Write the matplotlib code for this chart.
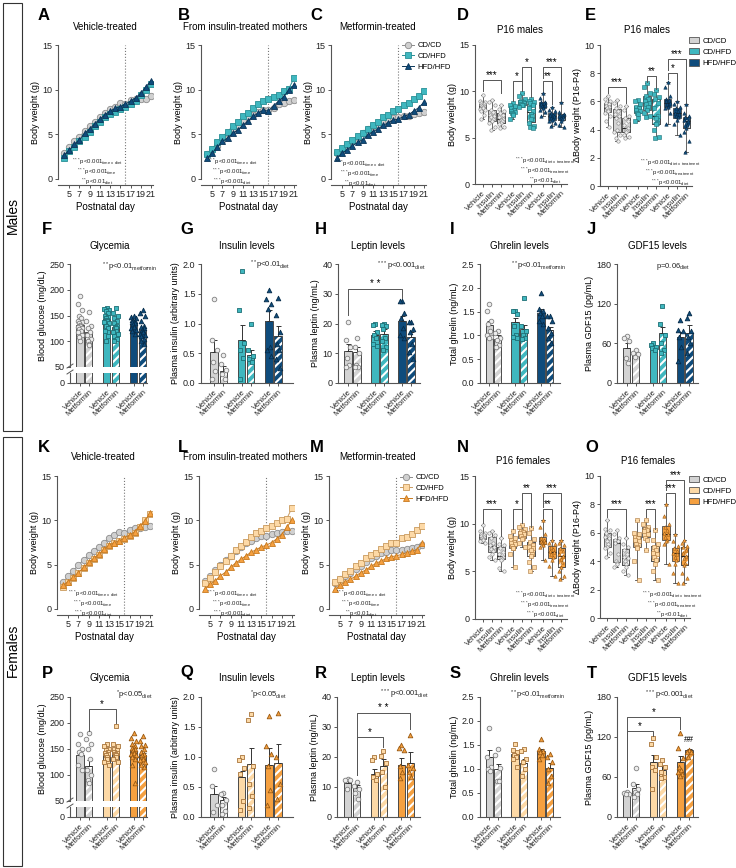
import numpy as np
import matplotlib
matplotlib.use('Agg')
import matplotlib.pyplot as plt
from matplotlib.patches import Rectangle, Patch, PathPatch
from matplotlib.lines import Line2D

# ---------------- data ----------------
days = list(range(4, 22))

# Males body-weight curves
A_CDCD   = [2.9, 3.6, 4.2, 4.7, 5.4, 5.9, 6.4, 6.9, 7.4, 7.8, 8.1, 8.5, 8.4, 8.8, 8.9, 8.9, 8.9, 9.3]
A_CDHFD  = [2.4, 3.1, 3.6, 4.2, 4.7, 5.3, 5.9, 6.4, 6.9, 7.3, 7.5, 7.8, 8.1, 8.4, 8.7, 9.4, 10.0, 10.6]
A_HFDHFD = [2.7, 3.2, 3.9, 4.4, 5.1, 5.6, 6.2, 6.7, 7.2, 7.6, 7.9, 8.1, 8.4, 8.7, 9.1, 9.6, 10.3, 11.0]
B_CDCD   = [2.8, 3.2, 3.7, 4.4, 5.0, 5.6, 6.0, 6.5, 6.9, 7.2, 7.5, 7.7, 7.7, 8.0, 8.4, 8.5, 8.7, 8.8]
B_CDHFD  = [2.8, 3.4, 4.1, 4.7, 5.3, 5.9, 6.4, 7.0, 7.4, 8.0, 8.4, 8.7, 9.0, 9.2, 9.4, 9.9, 10.1, 11.3]
B_HFDHFD = [2.3, 2.9, 3.6, 4.2, 4.6, 5.1, 5.5, 6.0, 6.5, 7.0, 7.4, 7.7, 7.6, 8.2, 8.7, 9.2, 10.0, 10.5]
C_CDCD   = [2.9, 3.4, 3.9, 4.3, 4.6, 5.2, 5.6, 5.9, 6.1, 6.4, 6.6, 6.8, 6.9, 7.0, 7.1, 7.3, 7.4, 7.5]
C_CDHFD  = [3.0, 3.5, 3.9, 4.4, 4.8, 5.2, 5.6, 6.0, 6.4, 6.9, 7.2, 7.6, 7.8, 8.3, 8.5, 8.9, 9.3, 9.8]
C_HFDHFD = [2.4, 2.9, 3.3, 3.7, 4.1, 4.4, 4.9, 5.3, 5.6, 6.0, 6.3, 6.6, 6.7, 7.0, 7.2, 7.6, 8.0, 8.6]
# Females body-weight curves
K_CDCD   = [3.0, 3.7, 4.3, 5.0, 5.5, 6.1, 6.5, 7.0, 7.4, 8.0, 8.4, 8.7, 8.6, 8.9, 9.1, 9.1, 9.3, 9.4]
K_CDHFD  = [2.5, 3.0, 3.5, 4.05, 4.6, 5.2, 5.6, 6.1, 6.6, 7.05, 7.5, 7.7, 7.9, 8.25, 8.6, 9.2, 10.05, 10.7]
K_HFDHFD = [2.7, 3.1, 3.6, 4.1, 4.7, 5.25, 5.7, 6.2, 6.75, 7.2, 7.5, 7.7, 8.0, 8.35, 8.7, 9.4, 9.9, 10.8]
L_CDCD   = [3.2, 3.7, 4.4, 5.0, 5.5, 6.0, 6.5, 7.0, 7.4, 7.7, 8.0, 8.2, 8.25, 8.5, 8.6, 8.7, 8.75, 8.8]
L_CDHFD  = [2.9, 3.55, 4.2, 4.8, 5.4, 6.0, 6.6, 7.1, 7.6, 8.1, 8.55, 8.85, 9.1, 9.4, 9.75, 10.05, 10.2, 11.4]
L_HFDHFD = [2.25, 2.8, 3.2, 3.75, 4.15, 4.7, 5.2, 5.6, 6.0, 6.4, 6.7, 7.0, 7.2, 7.5, 7.9, 8.4, 9.2, 10.05]
M_CDCD   = [2.9, 3.4, 3.7, 4.1, 4.55, 4.9, 5.3, 5.7, 6.0, 6.3, 6.45, 6.6, 6.7, 6.7, 6.8, 6.9, 6.95, 7.2]
M_CDHFD  = [3.05, 3.4, 3.9, 4.3, 4.8, 5.2, 5.7, 6.1, 6.3, 6.8, 7.1, 7.4, 7.5, 8.0, 8.1, 8.5, 8.9, 9.4]
M_HFDHFD = [2.2, 2.7, 3.05, 3.35, 3.7, 4.1, 4.4, 4.8, 5.15, 5.4, 5.7, 5.9, 6.0, 6.15, 6.35, 6.5, 6.7, 7.45]

# P16 individual values, per diet: [Vehicle, Insulin, Metformin]
D_CDCD = [[9.6, 9.0, 8.8, 8.7, 8.6, 8.5, 8.4, 8.4, 8.3, 8.2, 8.1, 8.0, 7.9, 7.5, 7.0],
          [9.1, 8.9, 8.5, 8.0, 7.8, 7.5, 7.3, 7.2, 7.0, 6.8, 6.6, 6.2, 5.8],
          [8.5, 8.1, 7.9, 7.7, 7.5, 7.2, 7.0, 6.9, 6.8, 6.6, 6.5, 6.2, 6.0]]
D_CDHFD = [[8.7, 8.5, 8.4, 8.2, 8.0, 7.9, 7.8, 7.7, 7.6, 7.4, 7.0],
           [9.8, 9.5, 9.2, 9.0, 8.9, 8.8, 8.7, 8.6, 8.5, 8.5, 8.3],
           [9.2, 9.0, 8.9, 8.7, 8.5, 8.2, 7.9, 7.6, 7.3, 7.0, 6.6, 6.3, 6.1, 6.0]]
D_HFDHFD = [[9.8, 9.3, 8.9, 8.8, 8.7, 8.6, 8.5, 8.4, 8.3, 8.2, 8.0, 7.8, 7.3],
            [8.3, 8.0, 7.9, 7.7, 7.5, 7.4, 7.3, 7.1, 7.0, 6.9, 6.8, 6.6, 6.3],
            [8.8, 7.8, 7.6, 7.5, 7.4, 7.3, 7.2, 7.1, 7.0, 6.8, 6.4, 6.1]]
E_CDCD = [[6.4, 6.2, 6.0, 5.9, 5.8, 5.7, 5.6, 5.5, 5.4, 5.3, 5.2, 5.0, 4.6, 4.2],
          [6.1, 5.9, 5.7, 5.5, 5.3, 5.1, 5.0, 4.8, 4.5, 4.0, 3.8, 3.6, 3.4, 3.2],
          [5.7, 5.4, 5.0, 4.8, 4.6, 4.3, 4.1, 4.0, 3.9, 3.8, 3.6, 3.5, 3.4]]
E_CDHFD = [[6.1, 6.0, 5.8, 5.6, 5.5, 5.4, 5.3, 5.2, 5.1, 4.8, 4.6],
           [7.3, 7.0, 6.6, 6.4, 6.2, 6.0, 5.9, 5.8, 5.6, 5.4, 5.2, 5.0, 4.9],
           [6.8, 6.5, 6.3, 6.2, 5.9, 5.5, 5.0, 4.8, 4.5, 4.4, 4.0, 3.5, 3.4]]
E_HFDHFD = [[7.4, 7.0, 6.4, 6.2, 6.1, 6.0, 5.9, 5.8, 5.7, 5.6, 5.5, 5.2, 4.4],
            [6.0, 5.8, 5.6, 5.5, 5.3, 5.2, 5.1, 5.0, 4.9, 4.7, 4.4, 3.6],
            [5.8, 5.2, 5.0, 4.9, 4.8, 4.7, 4.6, 4.5, 4.3, 4.1, 3.8, 3.2, 2.4]]
N_CDCD = [[9.9, 9.2, 9.0, 8.9, 8.8, 8.7, 8.6, 8.5, 8.4, 8.3, 8.2, 8.0],
          [9.2, 9.0, 8.8, 8.5, 8.0, 7.8, 7.6, 7.3, 7.1, 6.8, 6.5, 6.2],
          [8.5, 7.9, 7.8, 7.5, 7.0, 6.8, 6.5, 6.4, 6.3, 6.2, 5.3, 5.0]]
N_CDHFD = [[9.2, 8.7, 8.5, 8.3, 8.1, 8.0, 7.9, 7.7, 7.5, 7.4, 6.8, 5.5],
           [9.9, 9.6, 9.4, 9.2, 9.1, 9.0, 8.9, 8.7, 8.5, 8.4, 8.0, 7.6],
           [9.5, 9.0, 8.4, 8.1, 7.8, 7.6, 7.5, 7.2, 6.8, 6.6, 6.0, 5.5, 5.0]]
N_HFDHFD = [[10.4, 9.6, 8.9, 8.5, 8.3, 8.2, 8.1, 8.0, 7.9, 7.8, 7.6, 6.2],
            [8.3, 8.0, 7.9, 7.6, 7.3, 7.1, 7.0, 6.8, 6.5, 6.2, 5.6, 4.5],
            [8.3, 8.0, 7.8, 7.5, 7.1, 6.8, 6.6, 6.3, 6.0, 5.5, 5.0, 4.5, 4.2]]
O_CDCD = [[6.9, 6.3, 6.2, 6.0, 5.8, 5.7, 5.6, 5.4, 5.2, 5.0, 4.9, 4.6, 4.3],
          [6.2, 5.9, 5.6, 5.5, 5.4, 5.3, 4.5, 4.0, 3.9, 3.8, 3.6],
          [5.6, 5.2, 5.0, 4.8, 4.5, 4.3, 4.2, 4.0, 3.8, 3.6, 3.3, 3.0]]
O_CDHFD = [[6.9, 6.0, 5.9, 5.7, 5.6, 5.5, 5.4, 5.2, 5.0, 4.9, 4.0, 2.7],
           [6.9, 6.6, 6.4, 6.3, 6.2, 6.1, 5.9, 5.6, 5.5, 4.8],
           [6.2, 5.5, 5.2, 5.0, 4.8, 4.6, 4.5, 4.3, 4.1, 3.8, 3.3, 2.7]]
O_HFDHFD = [[8.0, 7.2, 6.6, 6.4, 6.2, 6.0, 5.9, 5.7, 5.5, 5.4, 5.2, 3.8],
            [5.9, 5.4, 5.1, 4.9, 4.7, 4.6, 4.5, 4.3, 4.1, 3.8, 3.2, 2.5],
            [5.5, 5.3, 5.1, 5.0, 4.8, 4.6, 4.4, 4.2, 3.9, 3.7, 3.2, 2.8, 2.5]]

# Bar panels: order CD/CD Veh, CD/CD Met, CD/HFD Veh, CD/HFD Met, HFD/HFD Veh, HFD/HFD Met
F_mean = [131, 118, 143, 127, 133, 121]
F_sem = [5, 7, 5, 5, 3, 4]
F_pts = [[187, 172, 160, 150, 145, 140, 138, 135, 132, 130, 128, 125, 123, 120, 117, 113, 108, 100],
         [157, 140, 130, 125, 118, 112, 105, 100, 95, 92],
         [165, 163, 160, 158, 155, 150, 148, 145, 142, 140, 138, 135, 130, 125, 120, 110, 100],
         [165, 155, 150, 145, 140, 135, 130, 128, 125, 120, 118, 115, 110, 105, 100],
         [150, 148, 145, 142, 140, 138, 135, 133, 130, 128, 125, 122, 120, 115],
         [160, 155, 150, 140, 130, 128, 125, 122, 120, 118, 115, 112, 110, 105, 100, 95]]
G_mean = [0.52, 0.21, 0.73, 0.47, 1.05, 0.79]
G_sem = [0.21, 0.08, 0.24, 0.09, 0.18, 0.17]
G_pts = [[1.41, 0.72, 0.56, 0.36, 0.2, 0.06], [0.47, 0.32, 0.22, 0.15, 0.06],
         [1.89, 1.22, 0.67, 0.55, 0.42, 0.07], [1.0, 0.55, 0.45, 0.4, 0.35],
         [1.57, 1.42, 1.32, 1.25, 0.6, 0.55, 0.45], [1.43, 1.14, 0.85, 0.65, 0.55, 0.4, 0.25]]
H_mean = [10.8, 10.3, 16.2, 16.5, 20.9, 15.6]
H_sem = [2.2, 1.9, 1.3, 1.5, 1.6, 1.6]
H_pts = [[20.5, 14.5, 12.2, 8.5, 6.0, 5.5], [15, 12, 10, 6, 5.5, 5.5],
         [20, 19.5, 17, 16, 15, 13, 12.5], [20, 19.5, 19, 18, 15, 14, 12, 11],
         [27.5, 27.5, 23.5, 22, 18.5, 16, 15], [20.5, 20.5, 18, 17, 13, 10.5, 8]]
I_mean = [1.22, 0.93, 1.28, 1.13, 1.48, 1.12]
I_sem = [0.09, 0.08, 0.08, 0.08, 0.07, 0.06]
I_pts = [[1.66, 1.52, 1.3, 1.25, 1.1, 1.0, 0.97, 0.95], [1.1, 1.05, 0.95, 0.9, 0.8, 0.75],
         [1.52, 1.52, 1.45, 1.2, 1.0, 0.97, 0.95], [1.78, 1.2, 1.1, 1.0, 0.95, 0.92],
         [1.9, 1.55, 1.52, 1.48, 1.4, 1.3, 1.25], [1.4, 1.4, 1.3, 1.15, 1.05, 0.95, 0.85]]
J_mean = [53, 44, 55, 75, 69, 75]
J_sem = [8, 3, 3, 10, 8, 12]
J_pts = [[71, 68, 64, 38, 30], [50, 46, 44, 40], [60, 57, 55, 53, 50],
         [117, 90, 72, 60, 50, 45], [96, 80, 78, 70, 55, 34], [106, 98, 78, 70, 60, 45]]
P_mean = [139, 118, 144, 146, 147, 138]
P_sem = [8, 10, 4, 4, 4, 4]
P_pts = [[178, 160, 150, 145, 140, 120, 110], [180, 170, 160, 150, 130, 110, 100, 90, 85],
         [160, 155, 150, 148, 145, 143, 140, 138, 135, 130, 125, 120],
         [195, 160, 155, 150, 148, 145, 142, 140, 138, 135, 130, 125],
         [180, 172, 165, 160, 155, 152, 150, 148, 145, 142, 140, 138, 135, 130, 120, 85],
         [175, 165, 158, 155, 150, 145, 140, 138, 135, 130, 128, 125, 120, 115]]
Q_mean = [0.39, 0.28, 0.67, 0.88, 0.87, 0.90]
Q_sem = [0.12, 0.06, 0.10, 0.27, 0.28, 0.32]
Q_pts = [[0.8, 0.52, 0.2, 0.08], [0.4, 0.38, 0.28, 0.2, 0.1, 0.05],
         [1.0, 0.95, 0.82, 0.72, 0.27, 0.12], [1.72, 1.62, 0.85, 0.55, 0.35, 0.15],
         [1.68, 1.18, 1.05, 0.85, 0.45, 0.2], [1.73, 1.0, 0.55, 0.3]]
R_mean = [11.4, 9.6, 14.5, 17.0, 17.3, 18.0]
R_sem = [1.0, 1.0, 1.5, 2.5, 2.5, 3.7]
R_pts = [[12.8, 12.5, 12.2, 9.5], [11.8, 10.5, 9.5, 8.0, 6.0], [20, 19, 14.5, 13.5, 12.5],
         [22, 20.5, 18, 15, 10], [24, 23, 22.5, 17, 15, 13], [27.5, 17.5, 16.5, 15, 13.5]]
S_mean = [1.24, 1.00, 1.31, 1.13, 1.37, 1.03]
S_sem = [0.16, 0.10, 0.06, 0.08, 0.05, 0.10]
S_pts = [[1.86, 1.25, 1.05, 1.0, 0.95], [1.41, 1.3, 1.02, 0.75, 0.75],
         [1.53, 1.4, 1.35, 1.3, 1.25, 1.2, 1.05], [1.42, 1.38, 1.2, 1.15, 1.0, 0.85],
         [1.62, 1.42, 1.38, 1.35, 1.3, 1.2], [1.32, 1.25, 1.15, 1.0, 0.85, 0.7]]
T_mean = [36, 43, 83, 71, 83, 100]
T_sem = [2, 6, 10, 5, 8, 2]
T_pts = [[38, 36, 35, 34], [74, 50, 42, 38, 35, 30], [118, 110, 90, 75, 70, 42],
         [85, 80, 75, 68, 60, 58], [126, 104, 88, 75, 70, 68, 65, 62], [100, 98, 98, 90]]

diets = ['CD/CD', 'CD/HFD', 'HFD/HFD']
box_labels = ['Vehicle', 'Insulin', 'Metformin']
bar_labels = ['Vehicle', 'Metformin']

# ---------------- style ----------------
plt.rcParams['font.family'] = ['Liberation Sans', 'DejaVu Sans']
plt.rcParams['mathtext.fontset'] = 'custom'
plt.rcParams['mathtext.rm'] = 'Liberation Sans'
plt.rcParams['mathtext.it'] = 'Liberation Sans:italic'
plt.rcParams['mathtext.bf'] = 'Liberation Sans:bold'
plt.rcParams['hatch.linewidth'] = 1.5

MALE = dict(c=['#D3D3D3', '#3FB7BF', '#0F4C7C'], e=['#808080', '#1d6f75', '#062c4a'],
            pf=['#EDEDED', '#3FB7BF', '#0F4C7C'], le=['#8c8c8c', '#2a8f96', '#0a3558'],
            mk=['o', 's', '^'])
FEMALE = dict(c=['#D3D3D3', '#FDD9A6', '#F5A040'], e=['#808080', '#a8743a', '#9a5a12'],
              pf=['#EDEDED', '#FDD9A6', '#F5A040'], le=['#8c8c8c', '#c99a5e', '#c77a20'],
              mk=['o', 's', '^'])
OUT = '#4a4a4a'

W, H = 736, 868
fig = plt.figure(figsize=(W / 100, H / 100), dpi=100)


def add_ax(l, t, r, b):
    return fig.add_axes([l / W, 1 - b / H, (r - l) / W, (b - t) / H])


def ftext(x, y, s, **kw):
    fig.text(x / W, 1 - y / H, s, **kw)


def style(ax):
    for s in ['top', 'right']:
        ax.spines[s].set_visible(False)
    for s in ['left', 'bottom']:
        ax.spines[s].set_linewidth(0.8)
        ax.spines[s].set_color('#555')
    ax.tick_params(labelsize=6.5, width=0.7, length=2.5, color='#555', pad=1.5, labelcolor='#222')
    ax.patch.set_alpha(0)


OFF = np.array([0, -1, 1, -0.5, 0.5, -0.75, 0.75, -0.25, 0.25])


def offs(n, w):
    return np.resize(OFF, n) * w


def bracket(ax, x1, x2, y, y1, y2, txt, fs=7):
    ax.plot([x1, x1, x2, x2], [y1, y, y, y2], color='#555', lw=0.7, clip_on=False, zorder=6)
    ax.text((x1 + x2) / 2, y, txt, ha='center', va='bottom', fontsize=fs, zorder=6)


def line_panel(rect, series, pal):
    ax = add_ax(*rect)
    style(ax)
    ax.set_xlim(2.8, 21.4)
    ax.set_ylim(0, 15)
    ax.spines['bottom'].set_position(('outward', 4))
    ax.set_xticks(range(5, 22, 2))
    ax.set_yticks([0, 5, 10, 15])
    ax.set_xlabel('Postnatal day', fontsize=7, labelpad=2)
    ax.set_ylabel('Body weight (g)', fontsize=6.5, labelpad=2)
    ax.plot([16, 16], [-0.6, 15], ls=':', color='#777', lw=0.8, clip_on=False, zorder=1)
    for k, vals in enumerate(series):
        ax.plot(days, vals, marker=pal['mk'][k], ms=4.6 if k != 2 else 4.8,
                mfc=pal['pf'][k] if k else '#D0D0D0', mec=pal['le'][k], mew=0.6,
                color=pal['le'][k], lw=0.7, zorder=3 + k, label=diets[k])
    return ax


def box_panel(rect, data3, pal, ylim, yticks, ylabel, brackets, xlim=(-0.8, 9.0)):
    ax = add_ax(*rect)
    style(ax)
    data = [g for diet in data3 for g in diet]
    pos = [0, 1, 2, 3.2, 4.2, 5.2, 6.4, 7.4, 8.4]
    bp = ax.boxplot(data, positions=pos, widths=0.82, whis=(0, 100), patch_artist=True,
                    showfliers=False, manage_ticks=False,
                    medianprops=dict(color='#222', lw=0.8, zorder=4),
                    whiskerprops=dict(color=OUT, lw=0.6),
                    capprops=dict(color=OUT, lw=0.6),
                    boxprops=dict(lw=0.6, edgecolor=OUT))
    for i, box in enumerate(bp['boxes']):
        k = i // 3
        box.set_facecolor(pal['c'][k])
        box.set_edgecolor(OUT)
        box.set_zorder(2)
        if i % 3 == 2:
            ax.add_patch(PathPatch(box.get_path(), transform=ax.transData, facecolor='none',
                                   edgecolor='white', hatch='////', lw=0, zorder=2.1))
            ax.add_patch(PathPatch(box.get_path(), transform=ax.transData, fill=False,
                                   edgecolor=OUT, lw=0.6, zorder=2.2))
    for i, vals in enumerate(data):
        k = i // 3
        ax.scatter(pos[i] + offs(len(vals), 0.28), vals, marker=pal['mk'][k], s=6,
                   facecolor=pal['pf'][k], edgecolor=pal['e'][k], linewidths=0.4, zorder=5)
    ax.set_xlim(*xlim)
    ax.set_ylim(*ylim)
    ax.set_yticks(yticks)
    ax.set_xticks(pos)
    ax.set_xticklabels(box_labels * 3, rotation=45, ha='right', rotation_mode='anchor', fontsize=5.5)
    ax.set_ylabel(ylabel, fontsize=6.5, labelpad=2)
    for b in brackets:
        bracket(ax, *b)
    return ax


POS2 = [0, 1, 3, 4, 6, 7]


def draw_bars(a, means, pal):
    for i, p in enumerate(POS2):
        k = i // 2
        a.bar(p, means[i], 0.82, color=pal['c'][k], edgecolor='none', zorder=1)
        if i % 2 == 1:
            a.bar(p, means[i], 0.82, facecolor='none', edgecolor='white', hatch='////',
                  linewidth=0, zorder=2)
        a.bar(p, means[i], 0.82, fill=False, edgecolor=OUT, linewidth=0.7, zorder=3)


def bar_panel(rect, means, sems, pts, pal, ylim, yticks, yticklabels, ylabel, xlim,
              brackets=(), broken=False):
    l, t, r, b = rect
    if broken:
        ax = add_ax(l, t, r, b - 16)
        axl = add_ax(l, b - 10, r, b)
        for a in (ax, axl):
            style(a)
            a.set_xlim(*xlim)
            draw_bars(a, means, pal)
        ax.spines['bottom'].set_visible(False)
        ax.set_xticks([])
        axl.set_ylim(0, 20)
        axl.set_yticks([0])
        axl.set_xticks(POS2)
        axl.set_xticklabels(bar_labels * 3, rotation=45, ha='right', rotation_mode='anchor', fontsize=5.5)
        for yy in (b - 17, b - 11):
            fig.add_artist(Line2D([(l - 3) / W, (l + 3) / W], [1 - (yy + 2) / H, 1 - (yy - 2) / H],
                                  color='#555', lw=0.7))
    else:
        ax = add_ax(l, t, r, b)
        style(ax)
        ax.set_xlim(*xlim)
        draw_bars(ax, means, pal)
        ax.set_xticks(POS2)
        ax.set_xticklabels(bar_labels * 3, rotation=45, ha='right', rotation_mode='anchor', fontsize=5.5)
    ax.set_ylim(*ylim)
    ax.set_yticks(yticks)
    ax.set_yticklabels(yticklabels)
    for i, p in enumerate(POS2):
        k = i // 2
        ax.errorbar(p, means[i], yerr=[[0], [sems[i]]], fmt='none', ecolor='#333',
                    elinewidth=0.7, capsize=1.8, capthick=0.7, zorder=4)
        vals = pts[i]
        ax.scatter(p + offs(len(vals), 0.26), vals, marker=pal['mk'][k], s=11,
                   facecolor=pal['pf'][k], edgecolor=pal['e'][k], linewidths=0.6, zorder=5,
                   clip_on=False)
    ax.set_ylabel(ylabel, fontsize=6.5, labelpad=2)
    for bk in brackets:
        bracket(ax, *bk)
    return ax


def legend_patches(pal, y):
    fig.legend([Patch(fc=c, ec='#555', lw=0.6) for c in pal['c']], diets, loc='upper left',
               bbox_to_anchor=(689 / W, 1 - y / H), fontsize=5.6, frameon=False,
               handlelength=1.3, handleheight=0.9, labelspacing=0.4, handletextpad=0.4,
               borderaxespad=0, borderpad=0)


# ---------------- side boxes ----------------
fig.add_artist(Rectangle((3 / W, 1 - 431 / H), 19 / W, 428 / H, transform=fig.transFigure,
                         fill=False, lw=0.8, ec='#333'))
fig.add_artist(Rectangle((3 / W, 1 - 866 / H), 19 / W, 429 / H, transform=fig.transFigure,
                         fill=False, lw=0.8, ec='#333'))
ftext(12.5, 215, 'Males', rotation=90, ha='center', va='center', fontsize=10)
ftext(12.5, 650, 'Females', rotation=90, ha='center', va='center', fontsize=10)

# ---------------- row 1 ----------------
line_panel((58, 45, 153, 179), [A_CDCD, A_CDHFD, A_HFDHFD], MALE)
line_panel((201, 45, 296, 179), [B_CDCD, B_CDHFD, B_HFDHFD], MALE)
axC = line_panel((331, 45, 426, 179), [C_CDCD, C_CDHFD, C_HFDHFD], MALE)
h, lab = axC.get_legend_handles_labels()
fig.legend(h, lab, loc='upper left', bbox_to_anchor=(402 / W, 1 - 42 / H), fontsize=5.5,
           frameon=False, handlelength=1.6, labelspacing=0.45, handletextpad=0.4,
           borderaxespad=0, borderpad=0)

box_panel((475, 45, 567, 184), [D_CDCD, D_CDHFD, D_HFDHFD], MALE, (0, 15), [0, 5, 10, 15],
          'Body weight (g)',
          [(0, 2, 11.2, 10.0, 9.8, '***'), (3.2, 4.2, 11.1, 9.0, 10.0, '*'),
           (4.2, 5.2, 12.6, 10.1, 9.4, '*'), (6.4, 7.4, 11.1, 10.0, 8.6, '**'),
           (6.4, 8.4, 12.6, 11.4, 9.0, '***')])
box_panel((600, 45, 692, 186), [E_CDCD, E_CDHFD, E_HFDHFD], MALE, (0, 10), [0, 2, 4, 6, 8, 10],
          'ΔBody weight (P16-P4)',
          [(0, 2, 7.0, 6.6, 5.9, '***'), (4.2, 5.2, 7.8, 7.4, 6.9, '**'),
           (6.4, 7.4, 8.0, 7.6, 6.1, '*'), (6.4, 8.4, 9.0, 8.2, 5.9, '***')])
legend_patches(MALE, 37)

# ---------------- row 2 ----------------
bar_panel((70, 264, 147, 383), F_mean, F_sem, F_pts, MALE, (50, 250), [50, 100, 150, 200, 250],
          ['50', '100', '150', '200', '250'], 'Blood glucose (mg/dL)', (-1.1, 7.5), broken=True)
bar_panel((201, 264, 293, 383), G_mean, G_sem, G_pts, MALE, (0, 2), [0, 0.5, 1, 1.5, 2],
          ['0.0', '0.5', '1.0', '1.5', '2.0'], 'Plasma insulin (arbitrary units)', (-1.45, 8.65))
bar_panel((338, 264, 420, 383), H_mean, H_sem, H_pts, MALE, (0, 40), [0, 10, 20, 30, 40],
          ['0', '10', '20', '30', '40'], 'Plasma leptin (ng/mL)', (-1.1, 8.0),
          brackets=[(0, 6, 31.6, 23, 28.5, '* *')])
bar_panel((480, 264, 560, 383), I_mean, I_sem, I_pts, MALE, (0, 2.5), [0, 0.5, 1, 1.5, 2, 2.5],
          ['0.0', '0.5', '1.0', '1.5', '2.0', '2.5'], 'Total ghrelin (ng/mL)', (-1.05, 8.2))
bar_panel((617, 264, 698, 383), J_mean, J_sem, J_pts, MALE, (0, 180), [0, 60, 120, 180],
          ['0', '60', '120', '180'], 'Plasma GDF15 (pg/mL)', (-1.1, 8.0))

# ---------------- row 3 ----------------
line_panel((57, 476, 152, 609), [K_CDCD, K_CDHFD, K_HFDHFD], FEMALE)
line_panel((199, 476, 294, 609), [L_CDCD, L_CDHFD, L_HFDHFD], FEMALE)
axM = line_panel((329, 476, 424, 609), [M_CDCD, M_CDHFD, M_HFDHFD], FEMALE)
h, lab = axM.get_legend_handles_labels()
fig.legend(h, lab, loc='upper left', bbox_to_anchor=(400 / W, 1 - 474 / H), fontsize=5.5,
           frameon=False, handlelength=1.6, labelspacing=0.45, handletextpad=0.4,
           borderaxespad=0, borderpad=0)

box_panel((475, 476, 567, 619), [N_CDCD, N_CDHFD, N_HFDHFD], FEMALE, (0, 15), [0, 5, 10, 15],
          'Body weight (g)',
          [(0, 2, 11.5, 10.1, 8.7, '***'), (3.2, 4.2, 11.5, 9.4, 10.1, '*'),
           (4.2, 5.2, 13.2, 10.1, 9.7, '**'), (6.4, 7.4, 11.5, 10.6, 8.5, '**'),
           (6.4, 8.4, 13.2, 11.7, 8.5, '***')])
box_panel((600, 476, 690, 618), [O_CDCD, O_CDHFD, O_HFDHFD], FEMALE, (0, 10), [0, 2, 4, 6, 8, 10],
          'ΔBody weight (P16-P4)',
          [(0, 2, 7.7, 7.1, 5.8, '***'), (4.2, 5.2, 7.7, 7.1, 6.3, '***'),
           (6.4, 7.4, 8.8, 8.2, 6.0, '***'), (6.4, 8.4, 9.7, 9.0, 5.6, '***')])
legend_patches(FEMALE, 476)

# ---------------- row 4 ----------------
bar_panel((70, 697, 147, 817), P_mean, P_sem, P_pts, FEMALE, (50, 250), [50, 100, 150, 200, 250],
          ['50', '100', '150', '200', '250'], 'Blood glucose (mg/dL)', (-1.1, 7.5), broken=True,
          brackets=[(1, 4, 227, 185, 200, '*')])
bar_panel((201, 697, 293, 817), Q_mean, Q_sem, Q_pts, FEMALE, (0, 2), [0, 0.5, 1, 1.5, 2],
          ['0.0', '0.5', '1.0', '1.5', '2.0'], 'Plasma insulin (arbitrary units)', (-1.45, 8.65))
bar_panel((337, 697, 420, 817), R_mean, R_sem, R_pts, FEMALE, (0, 40), [0, 10, 20, 30, 40],
          ['0', '10', '20', '30', '40'], 'Plasma leptin (ng/mL)', (-1.2, 8.1),
          brackets=[(1, 7, 34.7, 14, 29.5, '* *'), (1, 4, 26.7, 14, 23.5, '*')])
bar_panel((480, 697, 560, 817), S_mean, S_sem, S_pts, FEMALE, (0, 2.5), [0, 0.5, 1, 1.5, 2, 2.5],
          ['0.0', '0.5', '1.0', '1.5', '2.0', '2.5'], 'Total ghrelin (ng/mL)', (-1.05, 8.2))
axT = bar_panel((617, 697, 698, 817), T_mean, T_sem, T_pts, FEMALE, (0, 180), [0, 60, 120, 180],
                ['0', '60', '120', '180'], 'Plasma GDF15 (pg/mL)', (-1.1, 8.0),
                brackets=[(0, 6, 150, 45, 132, '*'), (0, 3, 129, 45, 121, '*')])
axT.text(7, 110, '##', ha='center', va='bottom', fontsize=6.5)

# ---------------- letters and titles ----------------
letters = [('A', 38, 15), ('B', 178, 15), ('C', 310, 15), ('D', 457, 15), ('E', 585, 15),
           ('F', 42, 230), ('G', 180, 230), ('H', 315, 230), ('I', 450, 230), ('J', 587, 230),
           ('K', 38, 447), ('L', 178, 447), ('M', 310, 447), ('N', 457, 447), ('O', 585, 447),
           ('P', 42, 673), ('Q', 180, 673), ('R', 315, 673), ('S', 450, 673), ('T', 587, 673)]
for s, x, y in letters:
    ftext(x, y, s, fontsize=12, fontweight='bold', ha='left', va='center')

titles = [(105, 27, 'Vehicle-treated'), (245, 27, 'From insulin-treated mothers'),
          (378, 27, 'Metformin-treated'), (520, 30, 'P16 males'), (647, 30, 'P16 males'),
          (110, 246, 'Glycemia'), (247, 246, 'Insulin levels'), (378, 246, 'Leptin levels'),
          (519, 246, 'Ghrelin levels'), (657, 246, 'GDF15 levels'),
          (103, 457, 'Vehicle-treated'), (245, 457, 'From insulin-treated mothers'),
          (378, 457, 'Metformin-treated'), (523, 461, 'P16 females'), (648, 461, 'P16 females'),
          (110, 678, 'Glycemia'), (247, 678, 'Insulin levels'), (378, 678, 'Leptin levels'),
          (519, 678, 'Ghrelin levels'), (657, 678, 'GDF15 levels')]
for x, y, s in titles:
    ftext(x, y, s, fontsize=7, ha='center', va='center')


# ---------------- statistics text ----------------
def st(stars, p, sub):
    pre = r'$^{%s}$' % stars if stars else ''
    return pre + p + r'$_{\rm %s}$' % sub.replace(' ', r'\ ')


three = {
    'A': (97, 172, [('***', 'p<0.001', 'time x diet'), ('***', 'p<0.001', 'time'), ('**', 'p<0.01', 'diet')]),
    'B': (232, 172, [('***', 'p<0.001', 'time x diet'), ('***', 'p<0.001', 'time'), ('***', 'p<0.001', 'diet')]),
    'C': (360, 174, [('***', 'p<0.001', 'time x diet'), ('***', 'p<0.001', 'time'), ('**', 'p<0.01', 'diet')]),
    'K': (93, 604, [('***', 'p<0.001', 'time x diet'), ('***', 'p<0.001', 'time'), ('***', 'p<0.001', 'diet')]),
    'L': (232, 604, [('***', 'p<0.001', 'time x diet'), ('***', 'p<0.001', 'time'), ('***', 'p<0.001', 'diet')]),
    'M': (361, 604, [('***', 'p<0.001', 'time x diet'), ('***', 'p<0.001', 'time'), ('**', 'p<0.01', 'diet')]),
    'D': (545, 171, [('***', 'p<0.001', 'diet x treatment'), ('***', 'p<0.001', 'treatment'), ('**', 'p<0.01', 'diet')]),
    'E': (670, 173, [('***', 'p<0.001', 'diet x treatment'), ('***', 'p<0.001', 'treatment'), ('***', 'p<0.001', 'diet')]),
    'N': (545, 605, [('***', 'p<0.001', 'diet x treatment'), ('***', 'p<0.001', 'treatment'), ('***', 'p<0.001', 'diet')]),
    'O': (672, 605, [('***', 'p<0.001', 'diet x treatment'), ('***', 'p<0.001', 'treatment'), ('**', 'p<0.01', 'diet')]),
}
for key, (x, y, items) in three.items():
    s = '\n'.join(st(a, b, c) for a, b, c in items)
    ftext(x, y, s, fontsize=4.3, ha='center', va='center', multialignment='center',
          linespacing=1.0, color='#222')

bar_stats = [(157, 267, '**', 'p<0.01', 'metformin'), (290, 265, '**', 'p<0.01', 'diet'),
             (425, 266, '***', 'p<0.001', 'diet'), (566, 266, '**', 'p<0.01', 'metformin'),
             (690, 267, '', 'p=0.06', 'diet'),
             (153, 695, '*', 'p<0.05', 'diet'), (287, 695, '*', 'p<0.05', 'diet'),
             (428, 694, '***', 'p<0.001', 'diet'), (565, 695, '**', 'p<0.01', 'metformin'),
             (693, 695, '***', 'p<0.001', 'diet')]
for x, y, a, b, c in bar_stats:
    ftext(x, y, st(a, b, c), fontsize=5.5, ha='right', va='center', color='#222')

fig.savefig('out.png', dpi=100)
